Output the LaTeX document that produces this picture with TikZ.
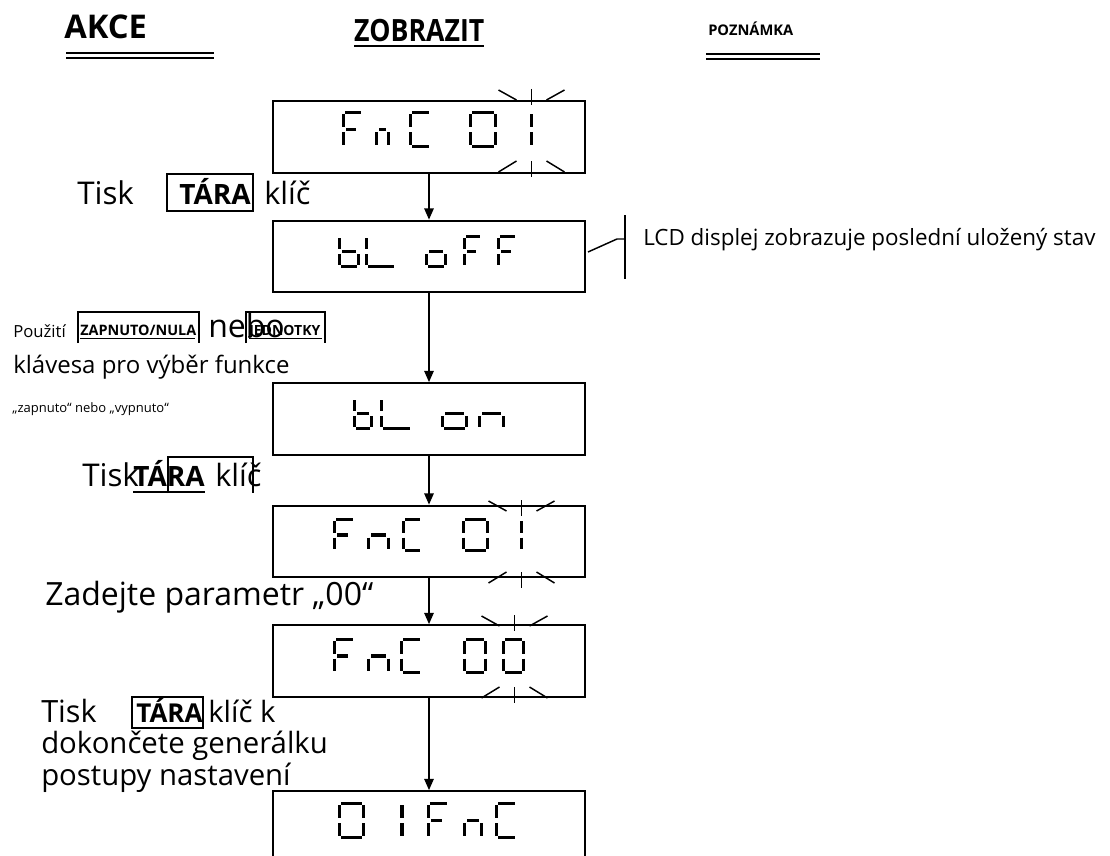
\documentclass[tikz,border=0pt]{standalone}
\usepackage{fontspec}
\setmainfont{Open Sans}
\usetikzlibrary{arrows.meta}
\newcommand\fs[1]{\fontsize{#1}{#1}\selectfont}
% seven segment helpers
\newcommand\segset[4]{\pgfmathsetmacro\qx{#1+1.5}\pgfmathsetmacro\qw{#2-#1-3}\pgfmathsetmacro\qy{#3+1.5}\pgfmathsetmacro\qh{#4-#3-3}}
\newcommand\SA{\draw[seg] ({\qx+1.8},{\qy}) -- ({\qx+\qw-1.8},{\qy});}
\newcommand\SB{\draw[seg] ({\qx+\qw},{\qy+1.8}) -- ({\qx+\qw},{\qy+\qh/2-2.5});}
\newcommand\SC{\draw[seg] ({\qx+\qw},{\qy+\qh/2+2.5}) -- ({\qx+\qw},{\qy+\qh-1.8});}
\newcommand\SD{\draw[seg] ({\qx+1.8},{\qy+\qh}) -- ({\qx+\qw-1.8},{\qy+\qh});}
\newcommand\SE{\draw[seg] ({\qx},{\qy+\qh/2+2.5}) -- ({\qx},{\qy+\qh-1.8});}
\newcommand\SF{\draw[seg] ({\qx},{\qy+1.8}) -- ({\qx},{\qy+\qh/2-2.5});}
\newcommand\SG{\draw[seg] ({\qx+2.5},{\qy+\qh/2}) -- ({\qx+\qw-2.5},{\qy+\qh/2});}
\newcommand\SGs{\draw[seg] ({\qx+2.5},{\qy+\qh/2}) -- ({\qx+0.68*\qw},{\qy+\qh/2});}
\newcommand\chF[4]{\segset{#1}{#2}{#3}{#4}\SA\SF\SE\SGs}
\newcommand\chn[4]{\segset{#1}{#2}{#3}{#4}\SG\SE\SC}
\newcommand\chC[4]{\segset{#1}{#2}{#3}{#4}\SA\SF\SE\SD}
\newcommand\chZ[4]{\segset{#1}{#2}{#3}{#4}\SA\SB\SC\SD\SE\SF}
\newcommand\chb[4]{\segset{#1}{#2}{#3}{#4}\SF\SE\SG\SC\SD}
\newcommand\chL[4]{\segset{#1}{#2}{#3}{#4}\SF\SE\SD}
\newcommand\cho[4]{\segset{#1}{#2}{#3}{#4}\SG\SE\SC\SD}
\newcommand\chI[3]{\pgfmathsetmacro\qx{#1}\pgfmathsetmacro\qw{0}\pgfmathsetmacro\qy{#2+1.5}\pgfmathsetmacro\qh{#3-#2-3}\SB\SC}
\newcommand\blinkT[2]{%
  \draw[blink] (#1,#2) -- (#1,{#2+16});
  \draw[blink] ({#1-33},{#2+1}) -- ({#1-15},{#2+11});
  \draw[blink] ({#1+33},{#2+1}) -- ({#1+15},{#2+11});}
\newcommand\blinkB[2]{%
  \draw[blink] (#1,#2) -- (#1,{#2+16});
  \draw[blink] ({#1-15},{#2}) -- ({#1-33},{#2+11});
  \draw[blink] ({#1+15},{#2}) -- ({#1+33},{#2+11});}
\begin{document}
\begin{tikzpicture}[x=0.75pt,y=-0.75pt,
  disp/.style={draw, line width=1.7pt, minimum width=234pt, minimum height=53.5pt, inner sep=0pt},
  arr/.style={line width=1.4pt, -{Triangle[length=8.5pt,width=7pt]}},
  seg/.style={line width=2.3pt},
  blink/.style={line width=1.1pt},
  lbl/.style={anchor=base west, inner sep=0pt},
  keybox/.style={line width=1.4pt},
  rule/.style={line width=1.9pt},
  note/.style={line width=1.1pt}]
\useasboundingbox (0,0) rectangle (1110,856);
% headers
\node[lbl] (hakce) at (64,39) {\fs{24.5}\bfseries AKCE};
\draw[rule] (66,53) -- (214,53);
\draw[rule] (66,58) -- (214,58);
\node[lbl, xscale=0.87] (hzob) at (354,42) {\fs{23}\bfseries ZOBRAZIT};
\draw[line width=1.6pt] (354,46) -- (484,46);
\node[lbl] (hpoz) at (708,36) {\fs{11}\bfseries POZNÁMKA};
\draw[rule] (706,54) -- (820,54);
\draw[rule] (706,59) -- (820,59);
% displays
\node[disp] (d1) at (429,137) {};
\node[disp] (d2) at (429,256.5) {};
\node[disp] (d3) at (429,419) {};
\node[disp] (d4) at (429,541.5) {};
\node[disp] (d5) at (429,661) {};
\node[disp] (d6) at (429,827) {};
\draw[arr] (d1) -- (d2);
\draw[arr] (d2) -- (d3);
\draw[arr] (d3) -- (d4);
\draw[arr] (d4) -- (d5);
\draw[arr] (d5) -- (d6);
% display 1: FnC 01
\chF{342}{364}{111}{148}
\chn{375}{390}{111}{148}
\chC{409}{432}{111}{148}
\chZ{469}{497}{111}{148}
\chI{531.5}{111}{148}
\blinkT{531.5}{89}
\blinkB{531.5}{161}
% display 2: bL oFF
\chb{338}{360}{235}{268}
\chL{365}{397}{235}{268}
\cho{425}{447}{235}{268}
\chF{463}{483}{235}{268}
\chF{497}{518}{235}{268}
% display 3: bL on
\chb{353}{373}{397}{430}
\chL{380}{413}{397}{430}
\cho{441}{468}{397}{430}
\chn{478}{505}{397}{430}
% display 4: FnC 01
\chF{333}{356}{518}{552}
\chn{367}{390}{518}{552}
\chC{402}{423}{518}{552}
\chZ{462}{489}{518}{552}
\chI{521.5}{518}{552}
\blinkT{521.5}{500}
\blinkB{521.5}{572}
% display 5: FnC 00
\chF{333}{356}{638}{674}
\chn{367}{390}{638}{674}
\chC{400}{423}{638}{674}
\chZ{463}{487}{638}{674}
\chZ{502}{525}{638}{674}
\blinkT{514.5}{615}
\blinkB{514.5}{687}
% display 6: 01FnC
\chZ{338}{365}{802}{839}
\chI{402}{802}{839}
\chF{427}{450}{802}{839}
\chn{463}{483}{802}{839}
\chC{495}{518}{802}{839}
% note
\coordinate (n0) at (588,252);
\coordinate (n1) at (617,239);
\coordinate (n2) at (625,239);
\coordinate (nt) at (625,215);
\coordinate (nb) at (625,279);
\draw[note] (n0) -- (n1) -- (n2);
\draw[note] (nt) -- (nb);
\node[lbl] (ntext) at (643,245) {\fs{16.8}LCD displej zobrazuje poslední uložený stav};
% step 1
\node[lbl] (t1) at (77,204) {\fs{23.5}Tisk};
\draw[keybox] (167,174) rectangle (253,211);
\node[lbl] (k1) at (179,204) {\fs{21}\bfseries TÁRA};
\node[lbl] (c1) at (264,204) {\fs{23}klíč};
% step 2
\node[lbl] (t2) at (13,337) {\fs{12.5}Použití};
\draw[keybox] (78,343) -- (78,312) -- (199,312) -- (199,343);
\node[lbl] (k2) at (80,335) {\fs{10.8}\bfseries ZAPNUTO/NULA};
\draw[line width=1pt] (80,338.5) -- (195,338.5);
\node[lbl] (t2b) at (208,337) {\fs{24}nebo};
\draw[keybox] (246,343) -- (246,312) -- (325,312) -- (325,343);
\node[lbl] (k3) at (249,335) {\fs{10.5}\bfseries JEDNOTKY};
\draw[line width=1pt] (249,338.5) -- (322,338.5);
\node[lbl] (t2c) at (13,373) {\fs{18}klávesa pro výběr funkce};
\node[lbl] (t2d) at (12,412) {\fs{9.75}„zapnuto“ nebo „vypnuto“};
% step 3
\node[lbl] (t3) at (82,486) {\fs{23.5}Tisk};
\node[lbl] (k4) at (133,486) {\fs{21}\bfseries TÁRA};
\draw[line width=1.4pt] (133,492) -- (205,492);
\node[lbl] (c3) at (215,486) {\fs{23}klíč};
\draw[keybox] (168,493) -- (168,457) -- (253,457) -- (253,493);
% step 4
\node[lbl] (t4) at (45,605) {\fs{24}Zadejte parametr „00“};
% step 5
\node[lbl] (t5) at (41,722) {\fs{23}Tisk};
\draw[keybox] (132,697) rectangle (203,728);
\node[lbl] (k5) at (136,722) {\fs{19.5}\bfseries TÁRA};
\node[lbl] (c5) at (208,722) {\fs{22}klíč k};
\node[lbl] (t5b) at (41,753) {\fs{22}dokončete generálku};
\node[lbl] (t5c) at (41,785) {\fs{22}postupy nastavení};
\end{tikzpicture}
\end{document}
